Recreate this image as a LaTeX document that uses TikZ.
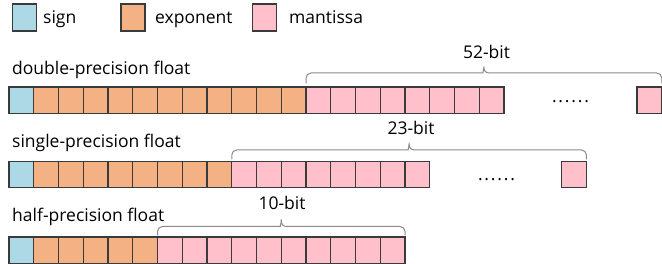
\documentclass[tikz,border=0pt]{standalone}
\usepackage{fontspec}
\setmainfont{Open Sans}
\usetikzlibrary{calc}
\definecolor{signc}{HTML}{ADD8E6}
\definecolor{expc}{HTML}{F4B183}
\definecolor{manc}{HTML}{FFC0CB}
\definecolor{edgec}{HTML}{3A3A3A}
\definecolor{bracec}{HTML}{8A8A8A}
\newcommand\mybrace[5]{%
  \draw[br] let \p1=#1, \p2=#2, \p3=($#1!0.5!#2$) in
    [rounded corners=5pt] (\x1,\y1+#3) -- (\x1,\y1+#4) -- (\x3-6pt,\y1+#4)
    [sharp corners] .. controls (\x3-1.5pt,\y1+#4) and (\x3,\y1+#4+2pt) .. (\x3,\y1+#4+#5)
    .. controls (\x3,\y1+#4+2pt) and (\x3+1.5pt,\y1+#4) .. (\x3+6pt,\y1+#4)
    [rounded corners=5pt] -- (\x2,\y1+#4) -- (\x2,\y1+#3);
}
\newcommand\mydots{.\kern1.8pt.\kern1.8pt.\kern1.8pt.\kern1.8pt.\kern1.8pt.}
\begin{document}
\begin{tikzpicture}[x=1pt,y=-1pt,
  cell/.style={draw=edgec, line width=1.2pt, minimum width=24.75pt, minimum height=26.3pt,
    inner sep=0pt, outer sep=0pt, anchor=north west},
  sgn/.style={cell, fill=signc},
  ex/.style={cell, fill=expc},
  man/.style={cell, fill=manc},
  key/.style={minimum width=24pt, minimum height=27pt},
  lbl/.style={font=\fontsize{17.5}{20}\selectfont, inner sep=0pt, anchor=base west},
  blbl/.style={font=\fontsize{17.5}{20}\selectfont, inner sep=0pt, anchor=base},
  br/.style={draw=bracec, line width=1pt}]
\useasboundingbox (0,0) rectangle (662,264);
% legend
\node[sgn, key] (lsign) at (12.3,4) {};
\node[lbl] (tsign) at (43,23.3) {sign};
\node[ex, key] (lexp) at (121,4) {};
\node[lbl] (texp) at (155,23.3) {exponent};
\node[man, key] (lman) at (252.7,4) {};
\node[lbl] (tman) at (289,23.3) {mantissa};
% row labels
\node[lbl] (tdouble) at (12,74.3) {double-precision float};
\node[lbl] (tsingle) at (12,147.7) {single-precision float};
\node[lbl] (thalf) at (12,221.7) {half-precision float};
% double
\node[sgn] (d0) at (9,87) {};
\foreach \i in {1,...,11} \node[ex] (d\i) at ({9+\i*24.75},87) {};
\foreach \i in {12,...,19} \node[man] (d\i) at ({9+\i*24.75},87) {};
\node[man] (dlast) at (637,87) {};
\node[blbl] (ddots) at (570.5,103) {\mydots};
\mybrace{(d12.north west)}{(dlast.north east)}{3.5pt}{14pt}{6.5pt}
\node[blbl] (dbits) at (486.5,58.3) {52-bit};
% single
\node[sgn] (s0) at (9,161.5) {};
\foreach \i in {1,...,8} \node[ex] (s\i) at ({9+\i*24.75},161.5) {};
\foreach \i in {9,...,16} \node[man] (s\i) at ({9+\i*24.75},161.5) {};
\node[man] (slast) at (561.7,161.5) {};
\node[blbl] (sdots) at (496.5,180.5) {\mydots};
\mybrace{(s9.north west)}{(slast.north east)}{2pt}{11.5pt}{7pt}
\node[blbl] (sbits) at (411,135) {23-bit};
% half
\node[sgn] (h0) at (9,237) {};
\foreach \i in {1,...,5} \node[ex] (h\i) at ({9+\i*24.75},237) {};
\foreach \i in {6,...,15} \node[man] (h\i) at ({9+\i*24.75},237) {};
\mybrace{(h6.north west)}{(h15.north east)}{1.5pt}{10.5pt}{7pt}
\node[blbl] (hbits) at (282,210) {10-bit};
\end{tikzpicture}
\end{document}
